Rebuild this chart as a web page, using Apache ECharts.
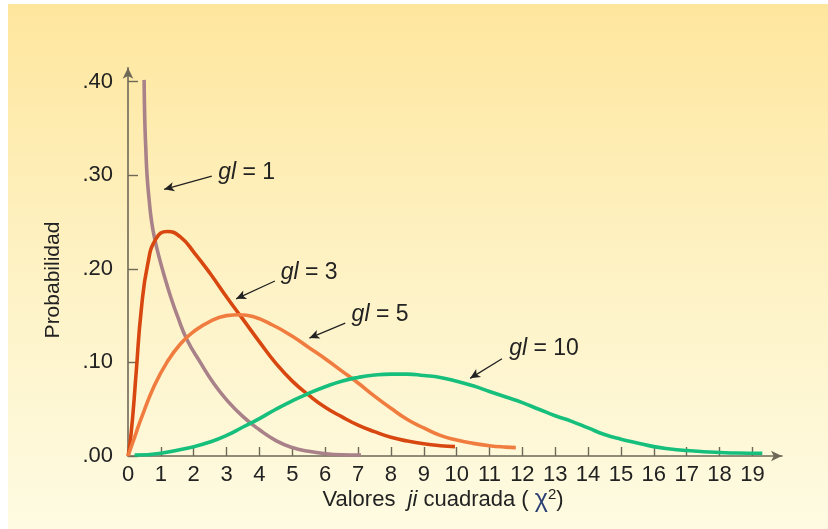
<!DOCTYPE html>
<html>
<head>
<meta charset="utf-8">
<script src="https://cdn.jsdelivr.net/npm/echarts@6/dist/echarts.min.js"></script>
<style>
html,body{margin:0;padding:0;background:#fff;}
#c{width:828px;height:529px;}
</style>
</head>
<body>
<div id="c"></div>
<script>
// ---- data (x = chi-square value, y = probability) ----
const xTicks = [0,1,2,3,4,5,6,7,8,9,10,11,12,13,14,15,16,17,18,19];
const yTicks = [0, 0.1, 0.2, 0.3, 0.4];
const yTickLabels = ['.00', '.10', '.20', '.30', '.40'];

const gl1 = [[0.49,0.402],[0.51,0.36],[0.54,0.33],[0.58,0.30],[0.64,0.275],[0.72,0.25],[0.82,0.231],[0.95,0.212],[1.1,0.193],[1.3,0.170],[1.5,0.150],[1.8,0.124],[2.2,0.100],[2.6,0.078],[3.0,0.060],[3.5,0.042],[4.0,0.028],[4.5,0.0165],[5.0,0.009],[5.5,0.005],[6.0,0.0025],[6.5,0.0013],[7.09,0.001]];
const gl3 = [[0,0],[0.05,0.01],[0.15,0.045],[0.25,0.09],[0.4,0.155],[0.6,0.205],[0.85,0.232],[1.2,0.240],[1.6,0.234],[2.0,0.218],[2.5,0.195],[3.0,0.170],[3.5,0.146],[4.0,0.122],[4.5,0.099],[5.0,0.080],[5.5,0.065],[6.0,0.052],[6.5,0.042],[7.0,0.033],[7.5,0.026],[8.0,0.020],[8.5,0.016],[9.0,0.013],[9.5,0.011],[9.95,0.010]];
const gl5 = [[0,0],[0.2,0.02],[0.4,0.040],[0.8,0.075],[1.2,0.101],[1.6,0.120],[2.0,0.133],[2.5,0.144],[3.0,0.150],[3.4,0.151],[3.8,0.149],[4.4,0.140],[5.0,0.128],[5.5,0.116],[6.0,0.104],[6.5,0.091],[7.0,0.078],[7.5,0.064],[8.0,0.051],[8.5,0.039],[9.0,0.030],[9.5,0.022],[10.0,0.017],[10.5,0.0135],[11.0,0.011],[11.5,0.0095],[11.8,0.009]];
const gl10 = [[0.2,0.001],[1.0,0.003],[2.0,0.010],[2.5,0.015],[3.0,0.022],[3.5,0.031],[4.0,0.040],[4.5,0.050],[5.0,0.059],[5.5,0.067],[6.0,0.074],[6.5,0.080],[7.0,0.084],[7.5,0.0865],[8.0,0.0875],[8.5,0.0875],[9.0,0.086],[9.5,0.084],[10.0,0.080],[10.5,0.075],[11.0,0.069],[11.5,0.063],[12.0,0.057],[12.5,0.050],[13.0,0.043],[13.5,0.037],[14.0,0.030],[14.5,0.023],[15.0,0.018],[15.5,0.014],[16.0,0.010],[16.5,0.0075],[17.0,0.0058],[17.5,0.0046],[18.0,0.0038],[18.5,0.0032],[19.3,0.003]];

// annotation labels (centre in data units) and arrows (from -> to)
const labelNames = ['1', '3', '5', '10'];
const labelPos = [[3.61,0.303],[5.51,0.196],[7.67,0.151],[12.66,0.115]];
const arrowFrom = [[2.55,0.299],[4.47,0.187],[6.61,0.142],[11.38,0.104]];
const arrowTo = [[1.10,0.285],[3.29,0.168],[5.52,0.126],[10.41,0.083]];

const seriesData = [gl1, gl3, gl5, gl10];
const colors = ['#a98189', '#d8470f', '#f07d3f', '#17bf7d'];

const FONT = '"Liberation Sans", Arial, sans-serif';
const axisColor = '#6e6858';

const chart = echarts.init(document.getElementById('c'), null, {renderer: 'canvas'});

const series = seriesData.map((d, i) => ({
  type: 'line',
  data: d,
  smooth: 0.5,
  showSymbol: false,
  symbol: 'none',
  z: 3 + i,
  lineStyle: {color: colors[i], width: 3.6, cap: 'butt'},
  itemStyle: {color: colors[i]},
  markLine: {
    silent: true,
    symbol: ['none', 'arrow'],
    symbolSize: [7, 10],
    label: {show: false},
    lineStyle: {color: '#222', width: 1.3, type: 'solid'},
    data: [[{coord: arrowFrom[i]}, {coord: arrowTo[i]}]]
  },
  markPoint: {
    silent: true,
    symbol: 'circle',
    symbolSize: 1,
    itemStyle: {color: 'rgba(0,0,0,0)'},
    label: {
      show: true,
      position: 'inside',
      formatter: '{i|gl} = ' + labelNames[i],
      color: '#222',
      fontFamily: FONT,
      fontSize: 23,
      rich: {i: {fontStyle: 'italic', fontSize: 23, fontFamily: FONT, color: '#222'}}
    },
    data: [{coord: labelPos[i], value: labelNames[i]}]
  }
}));

chart.setOption({
  animation: false,
  backgroundColor: '#ffffff',
  graphic: [
    {
      type: 'rect', z: -100, silent: true,
      shape: {x: 8, y: 4, width: 820, height: 525},
      style: {fill: new echarts.graphic.LinearGradient(0, 0, 0, 1, [
        {offset: 0, color: '#fee69d'},
        {offset: 0.5, color: '#fef2c4'},
        {offset: 1, color: '#fefbe2'}
      ])}
    },
    {
      type: 'text', z: 10, silent: true,
      x: 53, y: 280, rotation: Math.PI / 2,
      style: {text: 'Probabilidad', font: '21px ' + FONT, fill: '#222', align: 'center', verticalAlign: 'middle'}
    },
    {
      type: 'text', z: 10, silent: true,
      x: 443, y: 500,
      style: {
        text: 'Valores  {i|ji} cuadrada ( {c|χ}{s|2})',
        font: '22px ' + FONT, fill: '#222', align: 'center', verticalAlign: 'middle',
        rich: {
          i: {fontStyle: 'italic', fontSize: 22, fontFamily: FONT, fill: '#222'},
          c: {fontSize: 25, fontFamily: FONT, fill: '#2b3f73'},
          s: {fontSize: 15, fontFamily: FONT, fill: '#222', verticalAlign: 'top', padding: [0, 0, 10, 0]}
        }
      }
    }
  ],
  grid: {left: 128, right: 46, top: 67.7, bottom: 73, containLabel: false},
  xAxis: {
    type: 'value', min: 0, max: 19.9,
    axisLine: {show: true, onZero: false, symbol: ['none', 'arrow'], symbolSize: [8, 11], lineStyle: {color: axisColor, width: 1.6}},
    axisTick: {show: true, inside: true, length: 9, customValues: xTicks, lineStyle: {color: axisColor, width: 1.4}},
    axisLabel: {show: true, customValues: xTicks, margin: 8, color: '#222', fontSize: 22, fontFamily: FONT},
    splitLine: {show: false}
  },
  yAxis: {
    type: 'value', min: 0, max: 0.415,
    axisLine: {show: true, onZero: false, symbol: ['none', 'arrow'], symbolSize: [8, 11], lineStyle: {color: axisColor, width: 1.6}},
    axisTick: {show: true, inside: true, length: 10, customValues: yTicks, lineStyle: {color: axisColor, width: 1.4}},
    axisLabel: {
      show: true, customValues: yTicks, margin: 15, color: '#222', fontSize: 22, fontFamily: FONT,
      formatter: v => yTickLabels[yTicks.findIndex(t => Math.abs(t - v) < 1e-9)] || ''
    },
    splitLine: {show: false}
  },
  series: series
});
</script>
</body>
</html>
